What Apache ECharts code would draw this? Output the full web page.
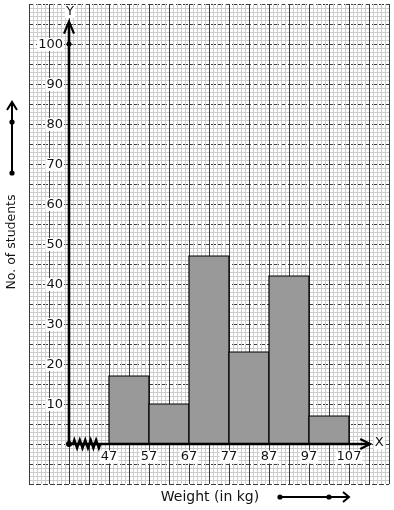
<!DOCTYPE html>
<html><head><meta charset="utf-8">
<script src="https://cdn.jsdelivr.net/npm/echarts@6/dist/echarts.min.js"></script>
<style>html,body{margin:0;padding:0;background:#fff}#c{width:394px;height:510px}</style>
</head><body><div id="c"></div>
<script>
// ---- data ----
const classLower = [47, 57, 67, 77, 87, 97];
const classUpper = [57, 67, 77, 87, 97, 107];
const students = [17, 10, 47, 23, 42, 7];
const xTickLabels = [47, 57, 67, 77, 87, 97, 107];
const yTickLabels = [10, 20, 30, 40, 50, 60, 70, 80, 90, 100];
const xAxisName = 'Weight (in kg)';
const yAxisName = 'No. of students';
const originX = 37;      // where the axes cross (kink before 47)
const xArrowEnd = 112.3; // end of the drawn X axis
const yArrowEnd = 105.6; // end of the drawn Y axis

const FONT = '13px "DejaVu Sans"';
const chart = echarts.init(document.getElementById('c'), null, {renderer: 'canvas'});

function paperAxis(max, dashed) {
  return {
    type: 'value', min: 0, max: max, interval: 5, gridIndex: 0,
    axisLine: {show: false}, axisTick: {show: false}, axisLabel: {show: false},
    splitLine: {show: true, lineStyle: {color: '#3c3c3c', width: 1, type: dashed ? [5, 2] : 'solid'}},
    minorTick: {show: false, splitNumber: 5},
    minorSplitLine: {show: true, lineStyle: {color: '#cdcdcd', width: 1}}
  };
}

const hist = classLower.map((l, i) => [l, classUpper[i], students[i]]);

const option = {
  animation: false,
  grid: {left: 29, right: 5, top: 4, bottom: 26},
  xAxis: [
    paperAxis(90, false),
    {type: 'value', min: 27, max: 117, show: false, gridIndex: 0}
  ],
  yAxis: [
    paperAxis(120, true),
    {type: 'value', min: -10, max: 110, show: false, gridIndex: 0}
  ],
  series: [
    {
      type: 'custom', name: 'bars', xAxisIndex: 1, yAxisIndex: 1, z: 3,
      data: hist,
      renderItem: function (params, api) {
        const p0 = api.coord([api.value(0), api.value(2)]);
        const p1 = api.coord([api.value(1), 0]);
        return {type: 'rect',
          shape: {x: p0[0], y: p0[1], width: p1[0] - p0[0], height: p1[1] - p0[1]},
          style: {fill: '#999999', stroke: '#000', lineWidth: 1.2}};
      }
    },
    {
      type: 'custom', name: 'axes', xAxisIndex: 1, yAxisIndex: 1, z: 5,
      data: [[originX, 0]],
      renderItem: function (params, api) {
        const o = api.coord([originX, 0]);
        const xe = api.coord([xArrowEnd, 0]);
        const ye = api.coord([originX, yArrowEnd]);
        const k0 = api.coord([originX + 1, 0]);
        const k1 = api.coord([originX + 7.8, 0]);
        const ls = {stroke: '#000', lineWidth: 2.6, fill: null};
        const zig = [];
        const n = 20;
        for (let i = 0; i <= n; i++) {
          const x = k0[0] + (k1[0] - k0[0]) * i / n;
          zig.push([x, o[1] + (i % 2 === 0 ? 0 : (i % 4 === 1 ? -4 : 4))]);
        }
        const top100 = api.coord([originX, 100]);
        return {type: 'group', children: [
          {type: 'line', shape: {x1: o[0], y1: o[1], x2: xe[0] - 1, y2: xe[1]}, style: ls},
          {type: 'line', shape: {x1: o[0], y1: o[1], x2: ye[0], y2: ye[1] + 1}, style: ls},
          {type: 'polyline', shape: {points: [[xe[0] - 10, xe[1] - 5], [xe[0], xe[1]], [xe[0] - 10, xe[1] + 5]]}, style: {stroke: '#000', lineWidth: 2.2, fill: null}},
          {type: 'polyline', shape: {points: [[ye[0] - 5, ye[1] + 12], [ye[0], ye[1]], [ye[0] + 5, ye[1] + 12]]}, style: {stroke: '#000', lineWidth: 2.2, fill: null}},
          {type: 'polyline', shape: {points: zig}, style: {stroke: '#000', lineWidth: 2.4, fill: null}},
          {type: 'circle', shape: {cx: o[0], cy: o[1], r: 3}, style: {fill: '#000'}},
          {type: 'circle', shape: {cx: top100[0], cy: top100[1], r: 2.5}, style: {fill: '#000'}},
          {type: 'text', style: {text: 'Y', x: ye[0] + 1, y: ye[1] - 10, align: 'center', verticalAlign: 'middle', font: FONT, fill: '#111', backgroundColor: '#fff', padding: [0, 1]}},
          {type: 'text', style: {text: 'X', x: xe[0] + 9, y: xe[1] - 1, align: 'center', verticalAlign: 'middle', font: FONT, fill: '#111', backgroundColor: '#fff', padding: [0, 1]}}
        ]};
      }
    },
    {
      type: 'custom', name: 'yLabels', xAxisIndex: 1, yAxisIndex: 1, z: 6,
      data: yTickLabels.map(v => [originX, v]),
      renderItem: function (params, api) {
        const p = api.coord([api.value(0), api.value(1)]);
        return {type: 'text', style: {text: String(api.value(1)), x: p[0] - 5, y: p[1] + 0.5,
          align: 'right', verticalAlign: 'middle', font: FONT, fill: '#111',
          backgroundColor: '#fff', padding: [0, 1]}};
      }
    },
    {
      type: 'custom', name: 'xLabels', xAxisIndex: 1, yAxisIndex: 1, z: 6,
      data: xTickLabels.map(v => [v, 0]),
      renderItem: function (params, api) {
        const p = api.coord([api.value(0), api.value(1)]);
        return {type: 'text', style: {text: String(api.value(0)), x: p[0], y: p[1] + 13,
          align: 'center', verticalAlign: 'middle', font: FONT, fill: '#111',
          backgroundColor: '#fff', padding: [0, 1]}};
      }
    }
  ],
  graphic: [
    {type: 'text', x: 210, y: 497, style: {text: xAxisName, font: '14px "DejaVu Sans"', fill: '#111', align: 'center', verticalAlign: 'middle'}},
    {type: 'text', rotation: Math.PI / 2, x: 12, y: 242, style: {text: yAxisName, font: '12.5px "DejaVu Sans"', fill: '#111', align: 'center', verticalAlign: 'middle'}},
    // scale arrows
    {type: 'line', shape: {x1: 280, y1: 497, x2: 348, y2: 497}, style: {stroke: '#000', lineWidth: 2}},
    {type: 'circle', shape: {cx: 280, cy: 497, r: 2.6}, style: {fill: '#000'}},
    {type: 'circle', shape: {cx: 329, cy: 497, r: 2.6}, style: {fill: '#000'}},
    {type: 'polyline', shape: {points: [[343, 492], [349, 497], [343, 502]]}, style: {stroke: '#000', lineWidth: 2, fill: null}},
    {type: 'line', shape: {x1: 12, y1: 173, x2: 12, y2: 103}, style: {stroke: '#000', lineWidth: 2}},
    {type: 'circle', shape: {cx: 12, cy: 122, r: 2.6}, style: {fill: '#000'}},
    {type: 'circle', shape: {cx: 12, cy: 173, r: 2.6}, style: {fill: '#000'}},
    {type: 'polyline', shape: {points: [[7, 110], [12, 102], [17, 110]]}, style: {stroke: '#000', lineWidth: 2, fill: null}}
  ]
};
chart.setOption(option);
</script>
</body></html>
